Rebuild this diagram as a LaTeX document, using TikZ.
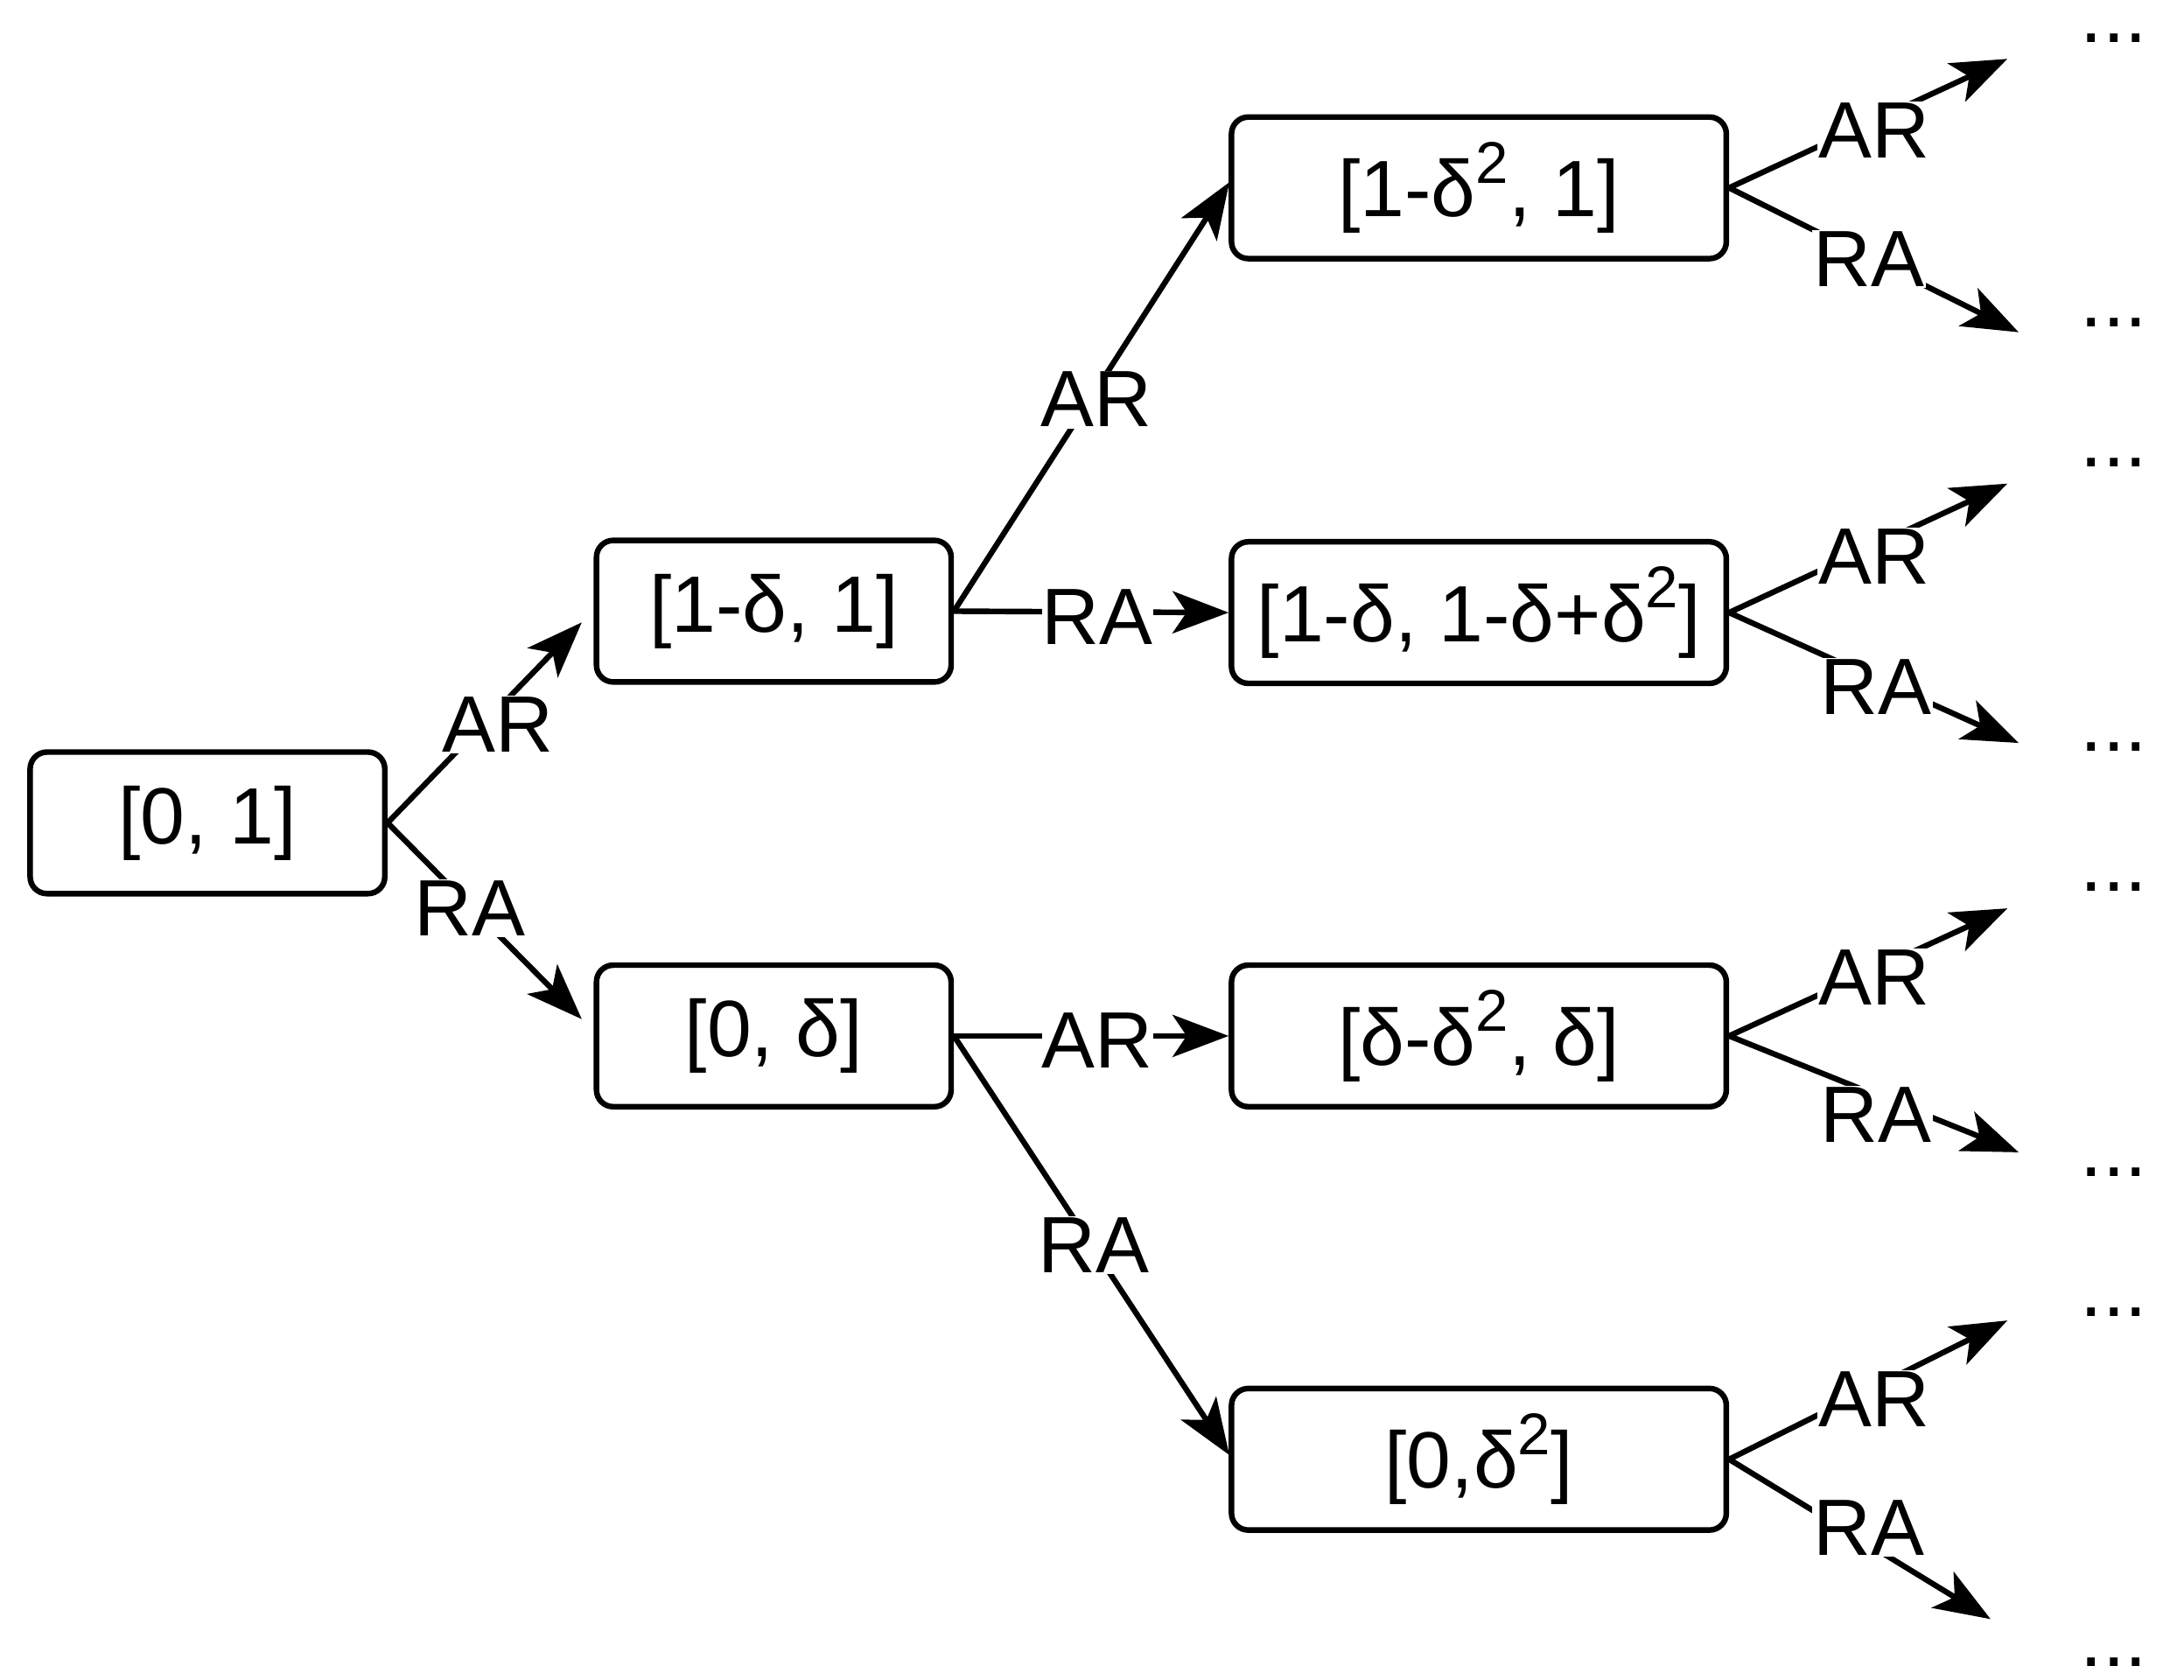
\documentclass[tikz,border=0pt]{standalone}
\usepackage{fontspec}
\setmainfont{Liberation Sans}
\usetikzlibrary{arrows.meta}
\newcommand{\sqr}{\raisebox{0.42em}{\fontsize{42}{50}\selectfont 2}}
\begin{document}
\begin{tikzpicture}[x=1pt,y=-1pt,
  box/.style={draw,line width=4pt,rounded corners=12pt,minimum width=253pt,minimum height=101pt,inner sep=0pt},
  wbox/.style={box,minimum width=353pt},
  lbl/.style={fill=white,inner sep=1pt},
  con/.style={line width=4pt,-{Stealth[length=40pt,width=30pt,inset=10pt]}},
  every node/.style={font=\fontsize{57}{66}\selectfont}]
\useasboundingbox (0,0) rectangle (1558,1198);
\node[box] (A) at (148,587) {[0, 1]};
\node[box] (B) at (552,436) {[1-δ, 1]};
\node[box] (C) at (552,739) {[0, δ]};
\node[wbox] (D) at (1055,134) {[1-δ\sqr, 1]};
\node[wbox] (E) at (1055,437) {[1-δ, 1-δ+δ\sqr]};
\node[wbox] (F) at (1055,739) {[δ-δ\sqr, δ]};
\node[wbox] (G) at (1055,1041) {[0,δ\sqr]};
\coordinate (d1) at (1432,42); \coordinate (d2) at (1440,237);
\coordinate (e1) at (1432,345); \coordinate (e2) at (1440,530);
\coordinate (f1) at (1432,648); \coordinate (f2) at (1440,822);
\coordinate (g1) at (1432,942); \coordinate (g2) at (1420,1155);
\draw[con] (A.east) -- (415,444);
\draw[con] (A.east) -- (415,727);
\draw[con] (B.east) -- (877,130);
\draw[con] (B.east) -- (E.west);
\draw[con] (C.east) -- (F.west);
\draw[con] (C.east) -- (877,1038);
\draw[con] (D.east) -- (d1); \draw[con] (D.east) -- (d2);
\draw[con] (E.east) -- (e1); \draw[con] (E.east) -- (e2);
\draw[con] (F.east) -- (f1); \draw[con] (F.east) -- (f2);
\draw[con] (G.east) -- (g1); \draw[con] (G.east) -- (g2);
\node[lbl] (l1) at (355,517) {AR};
\node[lbl] (l2) at (335,648) {RA};
\node[lbl] (l3) at (782,285) {AR};
\node[lbl,inner sep=0pt] (l4) at (783,440) {RA};
\node[lbl,inner sep=0pt] (l5) at (783,742) {AR};
\node[lbl] (l6) at (780,888) {RA};
\node[lbl] (l7) at (1337,93) {AR};
\node[lbl] (l8) at (1333,185) {RA};
\node[lbl] (l9) at (1337,397) {AR};
\node[lbl] (l10) at (1338,490) {RA};
\node[lbl] (l11) at (1337,697) {AR};
\node[lbl] (l12) at (1338,795) {RA};
\node[lbl] (l13) at (1337,998) {AR};
\node[lbl] (l14) at (1333,1090) {RA};
\foreach \y [count=\i] in {27,230,330,533,633,836,936,1186}
  \node[inner sep=0pt] (dots\i) at (1508,\y) {...};
\end{tikzpicture}
\end{document}
